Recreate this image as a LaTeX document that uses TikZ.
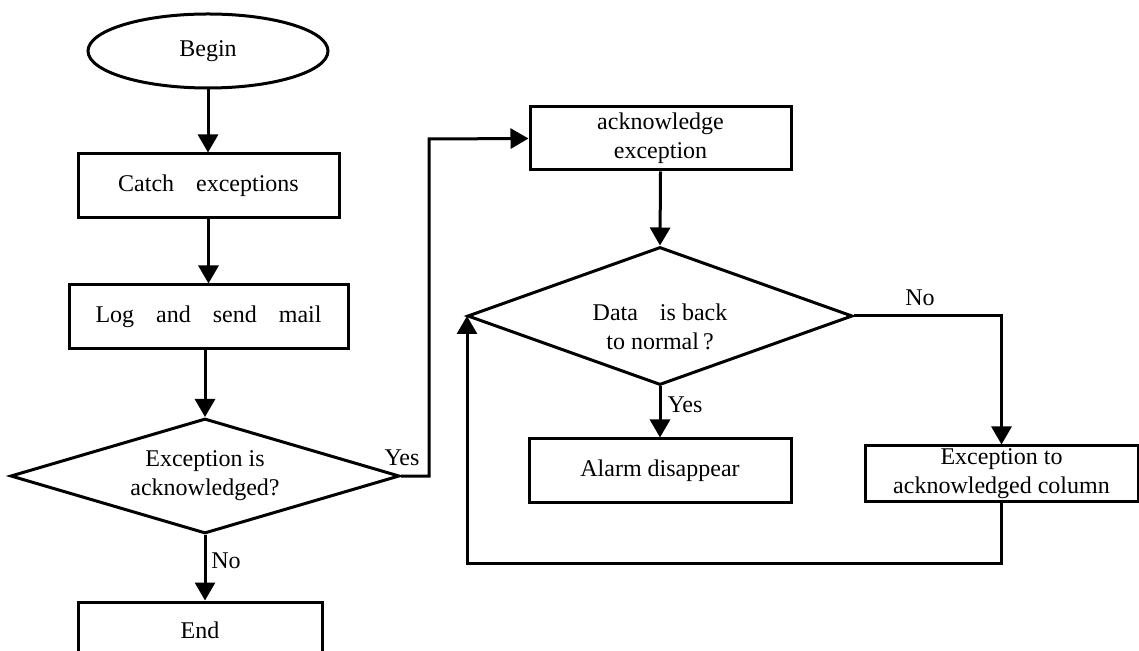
\documentclass[tikz,border=0pt]{standalone}
\usepackage{fontspec}
\setmainfont{Liberation Serif}
\usetikzlibrary{shapes.geometric,arrows.meta}
% wide gap between words, as in the printed labels
\newcommand{\wgap}{\hspace{11pt}}
\begin{document}
\begin{tikzpicture}[x=0.5pt,y=-0.5pt,
  every node/.style={font=\fontsize{12}{14.5}\selectfont},
  box/.style={draw,rectangle,line width=1.5pt,inner sep=0pt,align=center},
  term/.style={draw,ellipse,line width=1.5pt,inner sep=0pt},
  decision/.style={draw,diamond,line width=1.5pt,inner sep=0pt,align=center,aspect=3},
  lbl/.style={inner sep=0pt},
  arr/.style={line width=1.5pt,-{Triangle[width=10pt,length=9pt]}}
]
\clip (0,0) rectangle (1139,651);
\fill[white] (0,0) rectangle (1139,651);

% left column
\node[term,minimum width=120pt,minimum height=37pt] (begin) at (208,51) {\raisebox{-2pt}{Begin}};
\node[box,minimum width=130.5pt,minimum height=32pt] (catch) at (208.5,186) {Catch\wgap exceptions};
\node[box,minimum width=139.5pt,minimum height=32pt] (log) at (208.5,317) {\raisebox{-2pt}{Log\wgap and\wgap send\wgap mail}};
\node[decision,minimum width=194.5pt,minimum height=57.5pt] (d1) at (205,476) {Exception is\\acknowledged?};
\node[box,minimum width=122pt,minimum height=28pt] (end) at (200,630) {End};

% right part
\node[box,minimum width=130.5pt,minimum height=31.5pt] (ack) at (660.5,138.5) {acknowledge\\exception};
\node[decision,minimum width=192.5pt,minimum height=69pt] (d2) at (660,316) {};
\node[lbl,align=center] (d2t) at (660,327) {Data\wgap is back\\to normal\,?};
\node[box,minimum width=131pt,minimum height=31.5pt] (alarm) at (660,470.5) {Alarm disappear};
\node[box,minimum width=136.5pt,minimum height=27.5pt] (exc) at (1001.5,473.5) {Exception to\\acknowledged column};

% branch labels
\node[lbl] (yes1) at (402,458) {Yes};
\node[lbl] (no1) at (226,561) {No};
\node[lbl] (no2) at (920,298) {No};
\node[lbl] (yes2) at (685,405) {Yes};

% turning points
\coordinate (yesturn) at (429,139);
\coordinate (loopc) at (467,563);

% connectors
\draw[arr] (begin.south) -- (begin.south |- catch.north);
\draw[arr] (catch.south) -- (catch.south |- log.north);
\draw[arr] (log.south -| d1.north) -- (d1.north);
\draw[arr] (d1.south) -- (d1.south |- end.north);
\draw[arr] (d1.east) -| (yesturn) -- (ack.west);
\draw[arr] (ack.south) -- (d2.north);
\draw[arr] (d2.east) -| (exc.north);
\draw[arr] (d2.south) -- (alarm.north);
\draw[arr] (exc.south) |- (loopc) -- (loopc |- d2.west);
\end{tikzpicture}
\end{document}
